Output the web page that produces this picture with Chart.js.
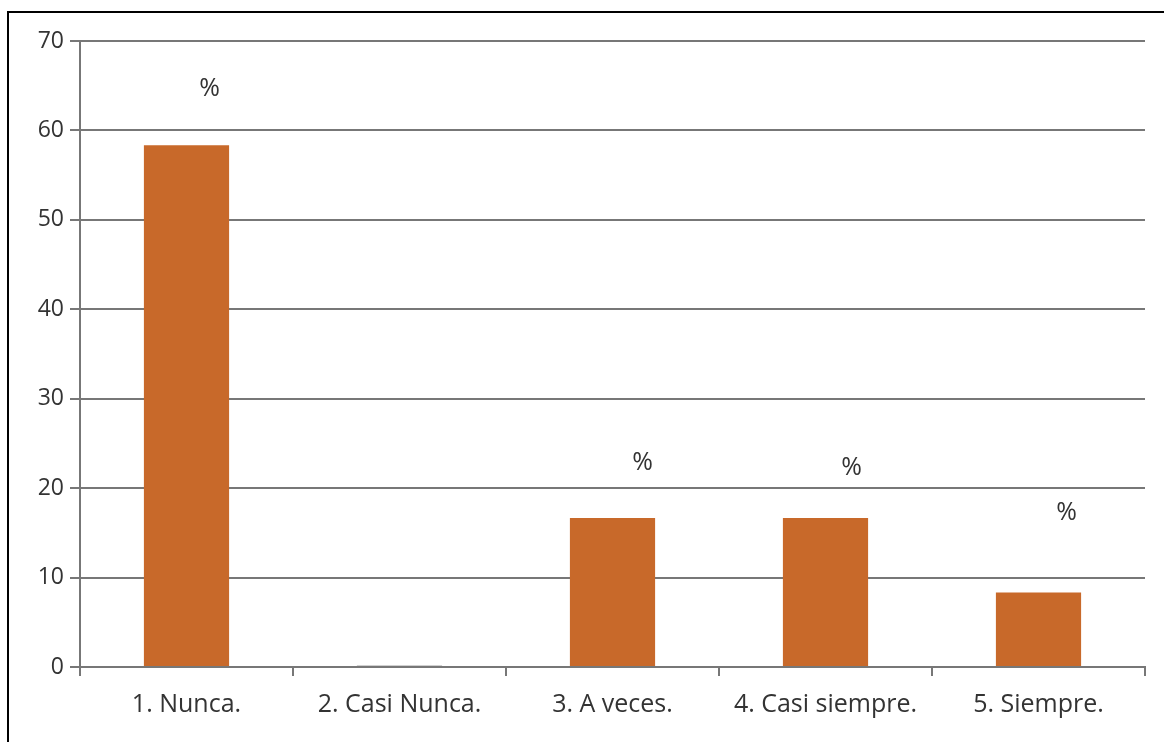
<!DOCTYPE html>
<html>
<head>
<meta charset="utf-8">
<script src="https://cdn.jsdelivr.net/npm/chart.js@4.4.1/dist/chart.umd.min.js"></script>
<style>
  html, body { margin: 0; padding: 0; background: #fff; overflow: hidden; }
  #wrap { position: relative; width: 1164px; height: 742px; }
  #frame {
    position: absolute; left: 7px; top: 11px; width: 2000px; height: 2000px;
    border-left: 2px solid #000; border-top: 2px solid #000; pointer-events: none;
  }
</style>
</head>
<body>
<div id="wrap">
  <canvas id="myChart" width="1164" height="742"></canvas>
  <div id="frame"></div>
</div>
<script>
// Data for the chart
const categories = ["1. Nunca.", "2. Casi Nunca.", "3. A veces.", "4. Casi siempre.", "5. Siempre."];
const percentages = [58.33, 0, 16.67, 16.67, 8.33];
const yTicks = [0, 10, 20, 30, 40, 50, 60, 70];

// "%" labels (value where each label sits, null = none)
const pctLabelAt = [64.6, null, 22.8, 22.3, 17.2];
const pctLabelShift = [23, 0, 30, 26, 28];

const textColor = "#333333";
const lineColor = "#777777";
const barColor = "#c8692a";

const pctLabels = {
    id: "pctLabels",
    afterDatasetsDraw(chart) {
        const ctx = chart.ctx;
        const x = chart.scales.x, y = chart.scales.y;
        ctx.save();
        ctx.font = "25px 'Open Sans'";
        ctx.fillStyle = textColor;
        ctx.textAlign = "center";
        ctx.textBaseline = "middle";
        pctLabelAt.forEach((v, i) => {
            if (v === null) return;
            ctx.fillText("%", x.getPixelForValue(i) + pctLabelShift[i], y.getPixelForValue(v));
        });
        ctx.restore();
    }
};

const config = {
    type: "bar",
    data: {
        labels: categories,
        datasets: [{
            data: percentages,
            backgroundColor: percentages.map(v => v === 0 ? "#d0d0d0" : barColor),
            borderWidth: 0,
            barPercentage: 0.4,
            categoryPercentage: 1,
            minBarLength: 2,
        }]
    },
    options: {
        responsive: false,
        animation: false,
        layout: { padding: { top: 41, right: 19, bottom: 0, left: 0 } },
        plugins: {
            legend: { display: false },
            tooltip: { enabled: false }
        },
        scales: {
            x: {
                grid: {
                    offset: true,
                    color: c => c.index === categories.length ? "#e3e3e3" : "rgba(0,0,0,0)",
                    lineWidth: 2,
                    tickColor: lineColor,
                    tickLength: 9,
                },
                border: { display: true, color: lineColor, width: 2 },
                ticks: {
                    color: textColor,
                    font: { family: "'Open Sans'", size: 25 },
                    padding: 14,
                },
                afterFit(scale) { scale.height = 75; }
            },
            y: {
                min: 0,
                max: 70,
                afterBuildTicks(scale) { scale.ticks = yTicks.map(v => ({ value: v })); },
                grid: {
                    color: lineColor,
                    lineWidth: 2,
                    tickColor: lineColor,
                    tickLength: 10,
                },
                border: { display: true, color: lineColor, width: 2 },
                ticks: {
                    color: textColor,
                    font: { family: "'Open Sans'", size: 23 },
                    padding: 6,
                },
                afterFit(scale) { scale.width = 80; }
            }
        }
    },
    plugins: [pctLabels]
};

const barChart = new Chart(document.getElementById("myChart"), config);
</script>
</body>
</html>
